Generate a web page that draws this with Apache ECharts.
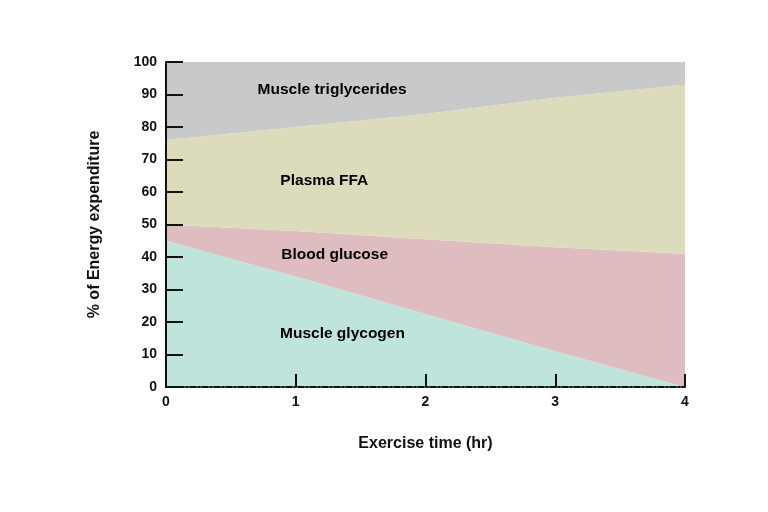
<!DOCTYPE html>
<html>
<head>
<meta charset="utf-8">
<script src="https://cdn.jsdelivr.net/npm/echarts@6/dist/echarts.min.js"></script>
<style>html,body{margin:0;padding:0;background:#fff}#c{width:768px;height:512px}</style>
</head>
<body>
<div id="c"></div>
<script>
var hours = ['0', '1', '2', '3', '4'];
var muscleGlycogen = [45, 34, 22.5, 11, 0];
var bloodGlucose = [5, 14, 23, 32, 41];
var plasmaFFA = [26, 32, 38.5, 46, 52];
var muscleTriglycerides = [24, 20, 16.5, 11, 7];
var seriesNames = ['Muscle glycogen', 'Blood glucose', 'Plasma FFA', 'Muscle triglycerides'];
var seriesColors = ['#bfe4db', '#dfbcbf', '#dcdcbc', '#c9c9c9'];
var labelX = [1.36, 1.30, 1.22, 1.28];
var labelY = [16.3, 40.6, 63.4, 91.5];
var yTicks = [0, 10, 20, 30, 40, 50, 60, 70, 80, 90, 100];

var FONT = '"Liberation Sans", Arial, Helvetica, sans-serif';
var values = [muscleGlycogen, bloodGlucose, plasmaFFA, muscleTriglycerides];
var series = values.map(function (v, i) {
  return {
    name: seriesNames[i],
    type: 'line',
    stack: 'total',
    symbol: 'none',
    lineStyle: { width: 0 },
    areaStyle: { color: seriesColors[i], opacity: 1 },
    data: v,
    z: 2
  };
});
series.push({
  type: 'scatter',
  xAxisIndex: 1,
  symbolSize: 1,
  itemStyle: { opacity: 0 },
  z: 5,
  silent: true,
  data: seriesNames.map(function (n, i) { return { value: [labelX[i], labelY[i]], name: n }; }),
  label: {
    show: true,
    position: 'inside',
    formatter: '{b}',
    color: '#000',
    opacity: 1,
    fontFamily: FONT,
    fontWeight: 'bold',
    fontSize: 15.5
  }
});

var chart = echarts.init(document.getElementById('c'));
chart.setOption({
  animation: false,
  grid: { left: 166, right: 83, top: 62, bottom: 125 },
  xAxis: [{
    type: 'category',
    data: hours,
    boundaryGap: false,
    z: 10,
    name: 'Exercise time (hr)',
    nameLocation: 'middle',
    nameGap: 49,
    nameTextStyle: { color: '#111', fontFamily: FONT, fontWeight: 'bold', fontSize: 16 },
    splitLine: { show: false },
    axisLine: { show: true, onZero: false, lineStyle: { color: '#111', width: 2, type: [6, 2, 2, 2] } },
    axisTick: { show: true, inside: true, length: 13, lineStyle: { color: '#111', width: 2 },
      interval: function (idx) { return idx > 0; } },
    axisLabel: { color: '#111', fontFamily: FONT, fontWeight: 'bold', fontSize: 14, margin: 8, interval: 0 }
  }, {
    type: 'value',
    min: 0, max: 4,
    show: false
  }],
  yAxis: {
    type: 'value',
    min: 0, max: 100, interval: 10,
    z: 10,
    name: '% of Energy expenditure',
    nameLocation: 'middle',
    nameGap: 63,
    nameRotate: 90,
    nameTextStyle: { color: '#111', fontFamily: FONT, fontWeight: 'bold', fontSize: 16 },
    splitLine: { show: false },
    axisLine: { show: true, lineStyle: { color: '#111', width: 2 } },
    axisTick: { show: true, inside: true, length: 17, lineStyle: { color: '#111', width: 2 } },
    axisLabel: { color: '#111', fontFamily: FONT, fontWeight: 'bold', fontSize: 14, margin: 9, customValues: yTicks }
  },
  series: series
});
</script>
</body>
</html>
